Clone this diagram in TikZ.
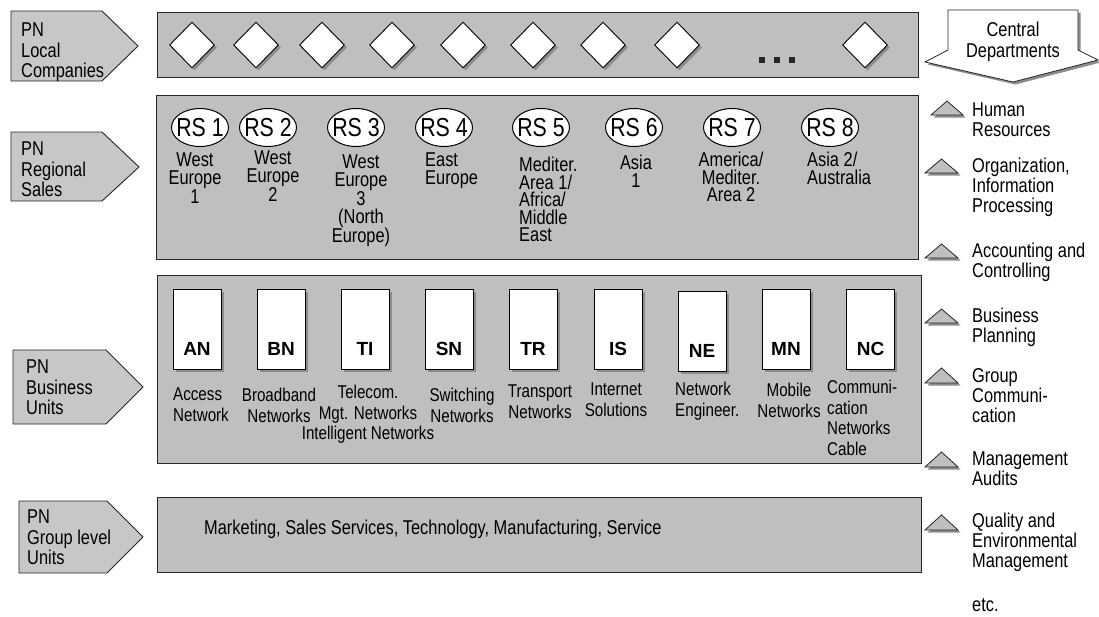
\documentclass[tikz,border=0pt]{standalone}
\usepackage{fontspec}
\setmainfont{Liberation Sans}[FakeStretch=0.82]
\newfontfamily\unitfont{Liberation Sans}
\usetikzlibrary{shapes.geometric,shadows,positioning}

\begin{document}
\begin{tikzpicture}[x=1pt, y=1pt,
    panel/.style={draw=black!85, fill=black!25, line width=1pt, anchor=north west, inner sep=0pt},
    tag/.style={draw=black!85, fill=black!22, line width=0.9pt},
    taglabel/.style={anchor=north west, inner sep=0pt, align=left, font=\fontsize{20}{20.5}\selectfont},
    dropshade/.style={general shadow={fill=black!45, shadow xshift=2.5pt, shadow yshift=-2.5pt}},
    company/.style={diamond, draw, fill=white, line width=0.9pt, minimum width=45pt, minimum height=46pt, inner sep=0pt, dropshade},
    region/.style={ellipse, draw, fill=white, line width=1pt, minimum width=57pt, minimum height=38pt, inner sep=0pt,
        label={[inner sep=0pt, font=\fontsize{26}{26}\selectfont]center:#1}},
    rlabel/.style={anchor=north, inner sep=0pt, align=center, font=\fontsize{20}{17.5}\selectfont},
    unit/.style={draw, fill=white, line width=0.9pt, anchor=north, minimum width=48pt, inner sep=0pt, text height=66pt, text depth=14pt, dropshade, font=\unitfont\bfseries\fontsize{19}{19}\selectfont},
    ulabel/.style={anchor=north, inner sep=0pt, align=center, font=\fontsize{18.5}{20.5}\selectfont},
    dept/.style={draw=black!85, fill=black!25, line width=0.8pt, dropshade},
    dlabel/.style={anchor=north west, inner sep=0pt, align=left, font=\fontsize{20}{20}\selectfont}
]
\useasboundingbox (0,0) rectangle (1099,-616);

% left tags
\draw[tag] (11,-11) -- (102,-11) -- (138,-46) -- (102,-81) -- (11,-81) -- cycle;
\draw[tag] (11,-132) -- (102,-132) -- (139,-167) -- (102,-201) -- (11,-201) -- cycle;
\draw[tag] (13,-350) -- (106,-350) -- (143,-387) -- (106,-424) -- (13,-424) -- cycle;
\draw[tag] (19,-501) -- (107,-501) -- (143,-537) -- (107,-573) -- (19,-573) -- cycle;
\node[taglabel] (lc) at (21,-23) {PN\\Local\\Companies};
\node[taglabel] (rs) at (21,-142) {PN\\Regional\\Sales};
\node[taglabel] (bu) at (26,-360) {PN\\Business\\Units};
\node[taglabel] (gl) at (27,-510) {PN\\Group level\\Units};

% panels
\node[panel, minimum width=761pt, minimum height=65pt] (lcp) at (157,-12) {};
\node[panel, minimum width=762pt, minimum height=164pt] (rsp) at (156,-95) {};
\node[panel, minimum width=764pt, minimum height=188pt] (bup) at (157,-275) {};
\node[panel, minimum width=764pt, minimum height=75pt] (glp) at (157,-497) {};

% local companies
\node[company] (c1) at (192,-45) {};
\node[company] (c2) at (256,-45) {};
\node[company] (c3) at (322,-45) {};
\node[company] (c4) at (392,-45) {};
\node[company] (c5) at (463,-45) {};
\node[company] (c6) at (533,-45) {};
\node[company] (c7) at (603,-45) {};
\node[company] (c8) at (677,-45) {};
\node[company] (cn) at (865,-45) {};
\foreach \x in {759,774,789}
    \fill[black!85] (\x,-57) rectangle ++(6,-6);

% regional sales
\node[region=RS 1] (r1) at (200,-127.5) {};
\node[region=RS 2] (r2) at (268,-127.5) {};
\node[region=RS 3] (r3) at (356,-127.5) {};
\node[region=RS 4] (r4) at (444,-127.5) {};
\node[region=RS 5] (r5) at (541,-127.5) {};
\node[region=RS 6] (r6) at (634,-127.5) {};
\node[region=RS 7] (r7) at (732,-127.5) {};
\node[region=RS 8] (r8) at (830,-127.5) {};
\node[rlabel] (r1l) at (195,-153) {West\\Europe\\1};
\node[rlabel] (r2l) at (273,-151) {West\\Europe\\2};
\node[rlabel] (r3l) at (361,-155) {West\\Europe\\3\\(North\\Europe)};
\node[rlabel, anchor=north west, align=left] (r4l) at (425,-153) {East\\Europe};
\node[rlabel, anchor=north west, align=left] (r5l) at (519,-157) {Mediter.\\Area 1/\\Africa/\\Middle\\East};
\node[rlabel] (r6l) at (636,-155) {Asia\\1};
\node[rlabel] (r7l) at (731,-152) {America/\\Mediter.\\Area 2};
\node[rlabel, anchor=north west, align=left] (r8l) at (807,-152) {Asia 2/\\Australia};

% business units
\node[unit] (an) at (197,-289) {AN};
\node[unit] (bn) at (281,-289) {BN};
\node[unit] (ti) at (365,-289) {TI};
\node[unit] (sn) at (449,-289) {SN};
\node[unit] (tr) at (533,-289) {TR};
\node[unit] (is) at (618,-289) {IS};
\node[unit] (ne) at (702,-291) {NE};
\node[unit] (mn) at (786,-289) {MN};
\node[unit] (nc) at (870.5,-289) {NC};
\node[ulabel, anchor=north west, align=left] (anl) at (173,-388) {Access\\Network};
\node[ulabel] (bnl) at (279,-388) {Broadband\\Networks};
\node[ulabel] (til) at (368,-385) {Telecom.\\Mgt. Networks\\Intelligent Networks};
\node[ulabel] (snl) at (462,-388) {Switching\\Networks};
\node[ulabel] (trl) at (540,-385) {Transport\\Networks};
\node[ulabel] (isl) at (616,-383) {Internet\\Solutions};
\node[ulabel, anchor=north west, align=left] (nel) at (675,-382) {Network\\Engineer.};
\node[ulabel] (mnl) at (789,-383) {Mobile\\Networks};
\node[ulabel, anchor=north west, align=left] (ncl) at (827,-380) {Communi-\\cation\\Networks\\Cable};

% group level
\node[taglabel] (glt) at (204,-520) {Marketing, Sales Services, Technology, Manufacturing, Service};

% central departments
\draw[dept, fill=white] (948,-10) -- (1078,-10) -- (1078,-50) -- (1098,-60) -- (1013,-82) -- (925,-62) -- (948,-50) -- cycle;
\node[ulabel, font=\fontsize{20}{21}\selectfont] (cd) at (1013,-22) {Central\\Departments};
\draw[dept] (931,-115) -- (947,-101) -- (963,-115) -- cycle;
\draw[dept] (925,-173) -- (941.5,-159) -- (958,-173) -- cycle;
\draw[dept] (925,-258) -- (941.5,-244) -- (958,-258) -- cycle;
\draw[dept] (925,-323) -- (941.5,-309) -- (958,-323) -- cycle;
\draw[dept] (925,-383) -- (941.5,-368) -- (958,-383) -- cycle;
\draw[dept] (925,-467) -- (941.5,-452) -- (958,-467) -- cycle;
\draw[dept] (925,-530) -- (941.5,-515) -- (958,-530) -- cycle;
\node[dlabel] (hr) at (972,-103) {Human\\Resources};
\node[dlabel] (oi) at (972,-158) {Organization,\\Information\\Processing};
\node[dlabel] (ac) at (972,-243) {Accounting and\\Controlling};
\node[dlabel] (bp) at (972,-308) {Business\\Planning};
\node[dlabel] (gc) at (972,-368) {Group\\Communi-\\cation};
\node[dlabel] (ma) at (972,-452) {Management\\Audits};
\node[dlabel] (qe) at (972,-513) {Quality and\\Environmental\\Management};
\node[dlabel] (etc) at (972,-598) {etc.};
\end{tikzpicture}
\end{document}
